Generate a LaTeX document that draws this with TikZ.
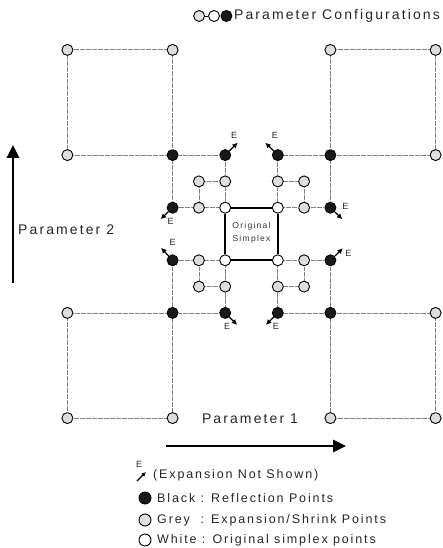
\documentclass[tikz,border=0pt]{standalone}
\usepackage{fontspec}
\setmainfont{Liberation Sans}
\newfontfamily\lab[LetterSpace=15]{Liberation Sans}
\usetikzlibrary{arrows.meta,positioning}
\begin{document}
\begin{tikzpicture}[x=1pt,y=-1pt,
 cnode/.style={circle,draw=black,line width=0.9pt,minimum size=11pt,inner sep=0pt},
 wpt/.style={cnode,fill=white},
 gpt/.style={cnode,fill=black!13},
 bpt/.style={cnode,fill=black!90},
 dotl/.style={draw=black!50,line width=0.8pt,dash pattern=on 0.6pt off 0.6pt},
 simp/.style={draw=black,line width=2.2pt},
 earr/.style={draw=black,line width=1.2pt,-{Latex[length=5.5pt,width=5.5pt]}},
 elab/.style={font=\fontsize{9}{9}\selectfont,inner sep=0pt,text=black!85},
 bigarr/.style={draw=black,line width=2.6pt,-{Triangle[length=13pt,width=12pt]}},
 txt/.style={font=\lab\fontsize{14}{16}\selectfont,text=black!85,inner sep=0pt},
 legt/.style={font=\lab\fontsize{12.5}{14}\selectfont,text=black!85,inner sep=0pt,anchor=west},
]
\useasboundingbox (0,0) rectangle (442,548);
% grid nodes
\foreach \q/\sx/\sy in {ul/-1/-1,ur/1/-1,ll/-1/1,lr/1/1}{
  \node[wpt] (w\q)  at ({251.5+\sx*26.3},{234+\sy*26.3}) {};
  \node[gpt] (ga\q) at ({251.5+2*\sx*26.3},{234+2*\sy*26.3}) {};
  \node[gpt] (gb\q) at ({251.5+\sx*26.3},{234+2*\sy*26.3}) {};
  \node[gpt] (gc\q) at ({251.5+2*\sx*26.3},{234+\sy*26.3}) {};
  \node[bpt] (bc\q) at ({251.5+3*\sx*26.3},{234+3*\sy*26.3}) {};
  \node[bpt] (bv\q) at ({251.5+\sx*26.3},{234+3*\sy*26.3}) {};
  \node[bpt] (bh\q) at ({251.5+3*\sx*26.3},{234+\sy*26.3}) {};
  \node[gpt] (lc\q) at ({251.5+7*\sx*26.3},{234+7*\sy*26.3}) {};
  \node[gpt] (lv\q) at ({251.5+3*\sx*26.3},{234+7*\sy*26.3}) {};
  \node[gpt] (lh\q) at ({251.5+7*\sx*26.3},{234+3*\sy*26.3}) {};
}
\foreach \q in {ul,ur,ll,lr}{
  \draw[dotl] (w\q) -- (gb\q) -- (ga\q) -- (gc\q) -- (w\q);
  \draw[dotl] (gb\q) -- (bv\q) -- (bc\q) -- (bh\q) -- (gc\q);
  \draw[dotl] (bc\q) -- (lv\q) -- (lc\q) -- (lh\q) -- (bc\q);
}
% original simplex
\draw[simp] (wul) -- (wur) -- (wlr) -- (wll) -- (wul);
\node[font=\lab\fontsize{8.5}{13}\selectfont,align=center,text=black!80,inner sep=0pt] (os) at (251.5,233) {Original\\Simplex};
% expansion arrows
\draw[earr] (bvul) -- ++(12.5,-12.5);
\node[elab] (e1) at ([shift={(9,-20)}]bvul) {E};
\draw[earr] (bvur) -- ++(-12.5,-12.5);
\node[elab] (e2) at ([shift={(-3,-20)}]bvur) {E};
\draw[earr] (bhul) -- ++(-12,11.5);
\node[elab] (e3) at ([shift={(-2,14)}]bhul) {E};
\draw[earr] (bhur) -- ++(12,11.5);
\node[elab] (e4) at ([shift={(15,-1)}]bhur) {E};
\draw[earr] (bhll) -- ++(-11.5,-12.5);
\node[elab] (e5) at ([shift={(0,-18)}]bhll) {E};
\draw[earr] (bhlr) -- ++(12.5,-12);
\node[elab] (e6) at ([shift={(18,-7)}]bhlr) {E};
\draw[earr] (bvll) -- ++(12,12);
\node[elab] (e7) at ([shift={(2,14)}]bvll) {E};
\draw[earr] (bvlr) -- ++(-12,12);
\node[elab] (e8) at ([shift={(-2,14)}]bvlr) {E};
% axes
\coordinate (p2s) at (13,283);
\coordinate (p2e) at (13,145);
\draw[bigarr] (p2s) -- (p2e);
\node[txt,anchor=west] (p2) at (18,230) {Parameter 2};
\coordinate (p1s) at (166,446);
\coordinate (p1e) at (346,446);
\draw[bigarr] (p1s) -- (p1e);
\node[txt] (p1) at (250,419) {Parameter 1};
% header
\node[txt,anchor=east] (hdr) at (440,16) {Parameter Configurations};
\node[bpt,left=1.5pt of hdr] (hb) {};
\node[wpt,left=0.5pt of hb] (hw) {};
\node[gpt,left=3pt of hw] (hg) {};
\draw[line width=0.6pt] (hg) -- (hw);
% legend
\node[elab] (le) at (139,464) {E};
\coordinate (la1) at (137,481);
\coordinate (la2) at (146,472);
\draw[earr,-{Latex[length=4.5pt,width=4.5pt]}] (la1) -- (la2);
\node[legt] (lt0) at (153,475) {(Expansion Not Shown)};
\node[bpt,minimum size=12pt] (lb) at (145,498) {};
\node[legt] (lt1) at (157,498) {Black : Reflection Points};
\node[gpt,minimum size=12pt] (lg) at (145,520) {};
\node[legt] (lt2) at (157,520) {Grey\ \ : Expansion/Shrink Points};
\node[wpt,minimum size=12pt] (lw) at (145,540) {};
\node[legt] (lt3) at (157,540) {White : Original simplex points};
\end{tikzpicture}
\end{document}
